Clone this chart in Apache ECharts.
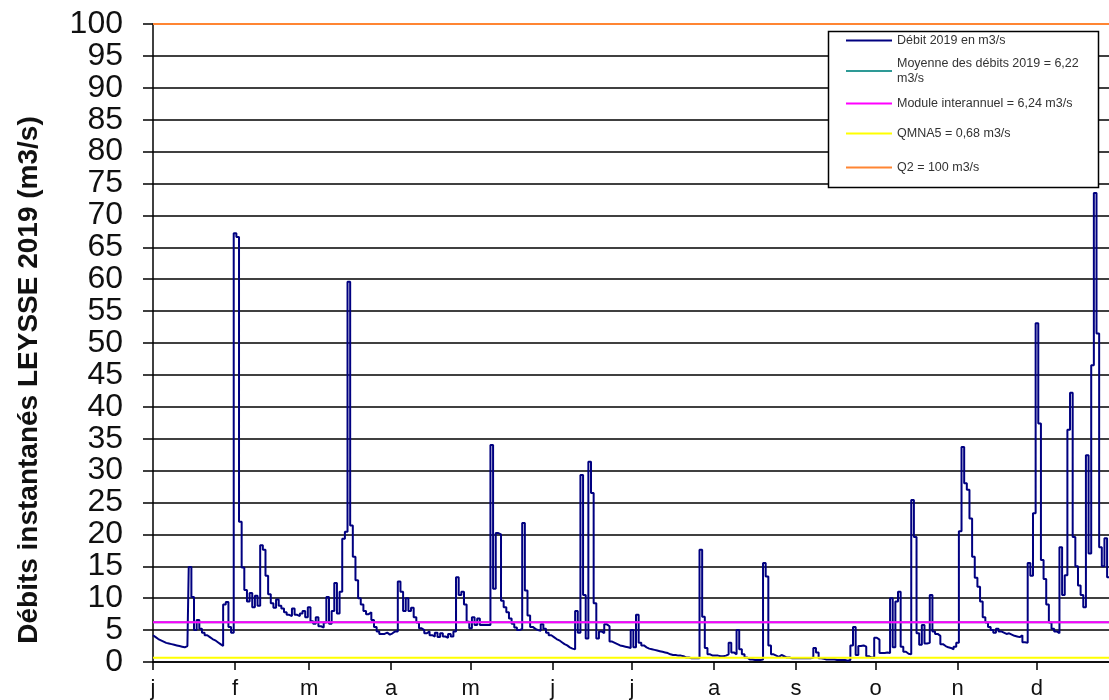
<!DOCTYPE html>
<html>
<head>
<meta charset="utf-8">
<script src="https://cdn.jsdelivr.net/npm/echarts@6/dist/echarts.min.js"></script>
<style>
html,body{margin:0;padding:0;background:#fff;}
#c{width:1109px;height:700px;}
</style>
</head>
<body>
<div id="c"></div>
<script>
// Daily discharge 2019 (m3/s), one array per month
var jan = [4.2,3.9,3.6,3.4,3.2,3.0,2.9,2.8,2.7,2.6,2.5,2.4,2.3,2.5,14.9,10.2,5.0,6.6,5.2,4.6,4.2,3.9,3.6,3.4,3.1,2.8,2.5,9.0,9.4,5.5,4.6];
var feb = [67.2,66.6,22.0,14.8,11.3,9.5,10.8,8.6,10.4,8.8,18.3,17.6,13.5,10.6,9.2,8.5,9.8,8.8,8.4,7.8,7.4,7.2,8.4,7.4,7.2,7.6,8.0,7.0];
var mar = [8.6,6.4,6.0,7.0,5.6,5.4,6.2,10.2,6.0,8.0,12.4,7.6,11.0,19.3,20.4,59.6,21.4,16.5,12.8,10.0,9.0,8.0,7.5,7.8,6.6,5.5,4.8,4.4,4.4,4.6,4.3];
var apr = [4.5,4.8,4.8,12.6,11.0,8.0,10.0,8.0,8.5,7.0,6.2,5.3,5.0,4.5,4.8,4.2,4.0,4.6,3.9,4.5,4.0,3.8,4.4,4.0,4.8,13.3,10.5,11.0,9.0,6.3];
var may = [5.3,7.0,5.8,6.8,5.8,5.8,5.8,5.8,34.0,11.5,20.2,20.0,9.6,8.6,7.8,6.8,6.0,5.4,5.0,5.2,21.8,11.2,7.3,5.5,5.2,5.0,4.9,5.9,5.2,4.6,4.2];
var jun = [3.9,3.6,3.4,3.1,2.8,2.6,2.3,2.1,2.0,8.0,4.6,29.3,10.5,3.7,31.4,26.5,9.2,3.7,4.8,4.5,5.9,5.6,3.2,3.0,2.8,2.6,2.5,2.4,2.3,2.2];
var jul = [5.0,2.3,7.4,3.0,2.6,2.3,2.1,2.0,1.9,1.8,1.7,1.6,1.5,1.4,1.2,1.1,1.1,1.0,1.0,0.9,0.7,0.7,0.6,0.6,0.6,0.6,17.6,7.1,2.2,1.2,1.0];
var aug = [1.0,1.0,0.9,0.9,1.0,1.2,3.0,1.5,1.2,5.0,2.0,1.2,0.7,0.4,0.4,0.3,0.3,0.3,0.4,15.5,13.4,2.6,1.2,1.0,0.8,1.1,0.9,0.7,0.7,0.6,0.6];
var sep = [0.6,0.6,0.6,0.6,0.6,0.6,0.7,2.2,1.5,0.6,0.5,0.4,0.4,0.4,0.4,0.3,0.3,0.3,0.3,0.2,0.3,2.6,5.5,1.1,2.5,2.6,2.4,0.9,0.7,0.7];
var oct = [3.8,3.5,1.4,1.4,1.5,1.4,10.0,2.3,9.5,11.0,2.4,1.6,1.3,1.2,25.4,19.6,4.5,2.7,5.8,2.9,3.0,10.5,4.8,4.4,4.1,2.8,2.5,2.3,2.2,2.0,2.4];
var nov = [3.0,20.5,33.7,28.0,27.0,22.5,16.5,13.2,11.8,9.5,7.0,6.2,5.5,5.0,4.6,5.2,4.8,4.6,4.4,4.5,4.3,4.1,4.0,3.9,4.2,3.1,3.0,15.5,13.5,23.3];
var dec = [53.1,37.4,16.0,13.0,9.0,6.2,5.2,4.8,4.5,18.0,10.5,13.6,36.4,42.2,19.6,15.0,12.0,10.5,8.6,32.4,17.0,46.5,73.5,51.5,18.0,15.0,19.4,13.3,13.0,12.5,12.0];

// Reference values (m3/s)
var moyenne = 6.22;
var module = 6.24;
var qmna5 = 0.68;
var q2 = 100;

// Axis ticks
var monthLabels = ['j','f','m','a','m','j','j','a','s','o','n','d'];
var monthStarts = [0,31,59,90,120,151,181,212,243,273,304,334];
var yearDays = 365;

var legendNames = ['Débit 2019 en m3/s','Moyenne des débits 2019 = 6,22\nm3/s','Module interannuel = 6,24 m3/s','QMNA5 = 0,68 m3/s','Q2 = 100 m3/s'];

var months = [jan,feb,mar,apr,may,jun,jul,aug,sep,oct,nov,dec];
var flow = [];
months.forEach(function(m){ m.forEach(function(v){ flow.push([flow.length, v]); }); });

function hline(v){ return [[0, v], [yearDays, v]]; }

var FONT = "'Liberation Sans', Arial, sans-serif";
var colors = ['#000080','#2E9A96','#FF00FF','#FFFF00','#FF8533'];

function refSeries(name, val, color){
  return {name:name, type:'line', data:hline(val), symbol:'none', silent:true,
    color:color, itemStyle:{color:color}, lineStyle:{color:color, width:2}};
}

function legendAt(idx, top, extraText){
  var ts = {fontSize:12.5, color:'#333', fontFamily:FONT, lineHeight:15};
  if (extraText) { ts.padding = [15,0,0,0]; }
  return {data:[legendNames[idx]], left:846, top:top, orient:'vertical', icon:'rect',
    itemWidth:46, itemHeight:2, itemGap:4, padding:0, selectedMode:false, textStyle:ts, z:10};
}

var chart = echarts.init(document.getElementById('c'), null, {renderer:'canvas'});
chart.setOption({
  animation:false,
  backgroundColor:'#fff',
  grid:{left:153, top:24, right:-10, bottom:38, containLabel:false, outerBoundsMode:'none'},
  xAxis:{
    type:'value', min:0, max:yearDays,
    axisLine:{show:true, onZero:false, lineStyle:{color:'#000', width:1.5}},
    axisTick:{show:true, customValues:monthStarts, length:8, lineStyle:{color:'#000', width:1.5}},
    axisLabel:{show:true, customValues:monthStarts, margin:16, fontSize:22, color:'#111', fontFamily:FONT,
      formatter:function(v){ var i = monthStarts.indexOf(Math.round(v)); return i>=0 ? monthLabels[i] : ''; }},
    splitLine:{show:false}
  },
  yAxis:{
    type:'value', min:0, max:100, interval:5,
    name:'Débits instantanés LEYSSE 2019 (m3/s)',
    nameLocation:'middle', nameGap:110, nameRotate:90,
    nameTextStyle:{fontSize:28, fontWeight:'bold', color:'#111', fontFamily:FONT, padding:[0,74,0,0]},
    axisLine:{show:true, lineStyle:{color:'#000', width:1.5}},
    axisTick:{show:true, length:10, lineStyle:{color:'#000', width:1.5}},
    axisLabel:{margin:30, fontSize:32, color:'#111', fontFamily:FONT},
    splitLine:{show:true, lineStyle:{color:'#000', width:1.5}}
  },
  legend:[
    legendAt(0, 33),
    legendAt(1, 48.5, true),
    legendAt(2, 96),
    legendAt(3, 126),
    legendAt(4, 160)
  ],
  graphic:[{type:'rect', z:5, shape:{x:828.5, y:31.5, width:270, height:156},
    style:{fill:'#fff', stroke:'#000', lineWidth:1.5}}],
  series:[
    {name:legendNames[0], type:'line', data:flow, step:'middle', symbol:'none',
      color:colors[0], itemStyle:{color:colors[0]}, lineStyle:{color:colors[0], width:2}},
    refSeries(legendNames[1], moyenne, colors[1]),
    refSeries(legendNames[2], module, colors[2]),
    refSeries(legendNames[3], qmna5, colors[3]),
    refSeries(legendNames[4], q2, colors[4])
  ]
});
</script>
</body>
</html>
